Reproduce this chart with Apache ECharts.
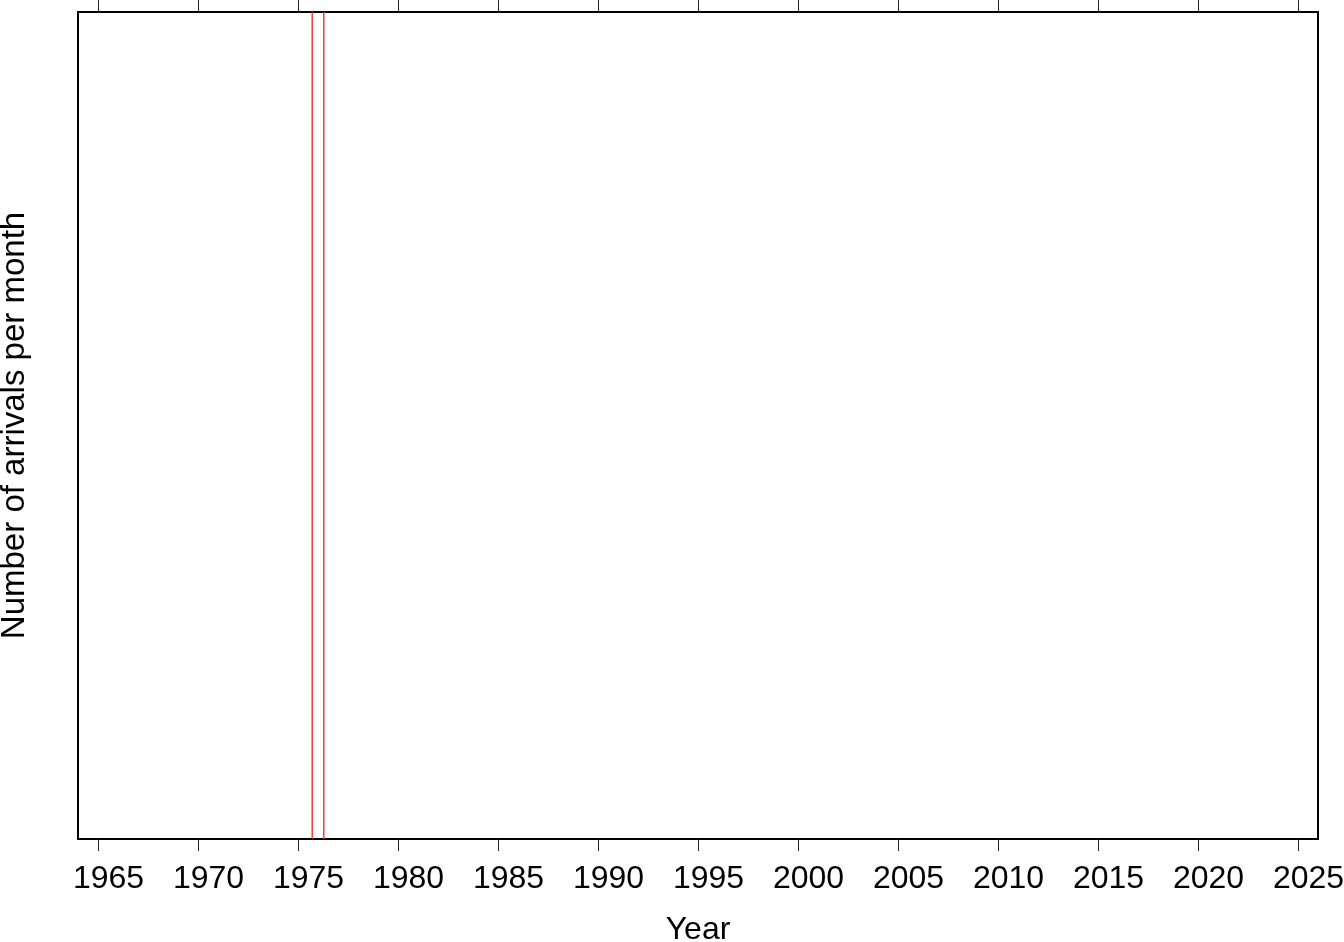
<!DOCTYPE html>
<html>
<head>
<meta charset="utf-8">
<script src="https://cdn.jsdelivr.net/npm/echarts@6/dist/echarts.min.js"></script>
<style>
html,body{margin:0;padding:0;background:#fff;}
#chart{width:1344px;height:942px;}
</style>
</head>
<body>
<div id="chart"></div>
<script>
// Tick labels on the year axis
const tickYears = [1965, 1970, 1975, 1980, 1985, 1990, 1995, 2000, 2005, 2010, 2015, 2020, 2025];
// Axis extent
const xMin = 1964;
const xMax = 2026;
// Event markers (vertical red lines), in decimal years
const eventYears = [1975.71, 1976.29];
// Y extent (no values shown)
const yMin = 0;
const yMax = 1;

const FONT = '"Liberation Sans", Arial, Helvetica, sans-serif';

const series = eventYears.map(function (yr) {
  return {
    type: 'line',
    data: [[yr, yMin], [yr, yMax]],
    symbol: 'none',
    silent: true,
    lineStyle: { color: '#ee3333', width: 1.4 },
    animation: false
  };
});

const chart = echarts.init(document.getElementById('chart'), null, { renderer: 'canvas' });
chart.setOption({
  backgroundColor: '#fff',
  animation: false,
  grid: {
    left: 78, right: 26, top: 12, bottom: 103,
    containLabel: false,
    outerBoundsMode: 'none',
    show: true, borderColor: '#000', borderWidth: 2, backgroundColor: 'transparent'
  },
  xAxis: [{
    type: 'value',
    position: 'bottom',
    min: xMin, max: xMax,
    name: 'Year',
    nameLocation: 'middle',
    nameGap: 75,
    nameTextStyle: { fontFamily: FONT, fontSize: 32, color: '#000' },
    axisLine: { show: true, lineStyle: { color: '#000', width: 2 } },
    axisTick: { show: true, length: 12, customValues: tickYears, lineStyle: { color: '#222', width: 1 } },
    axisLabel: {
      show: true, customValues: tickYears, margin: 24,
      padding: [0, 0, 0, 21],
      fontFamily: FONT, fontSize: 32, color: '#000',
      formatter: function (v) { return String(v); }
    },
    splitLine: { show: false }
  }, {
    type: 'value',
    position: 'top',
    min: xMin, max: xMax,
    axisLine: { show: true, lineStyle: { color: '#000', width: 2 } },
    axisTick: { show: true, length: 12, customValues: tickYears, lineStyle: { color: '#222', width: 1 } },
    axisLabel: { show: false },
    splitLine: { show: false }
  }],
  yAxis: [{
    type: 'value',
    min: yMin, max: yMax,
    name: 'Number of arrivals per month',
    nameLocation: 'middle',
    nameGap: 47,
    nameRotate: 90,
    nameTextStyle: { fontFamily: FONT, fontSize: 33, color: '#000' },
    axisLine: { show: true, lineStyle: { color: '#000', width: 2 } },
    axisTick: { show: false },
    axisLabel: { show: false },
    splitLine: { show: false }
  }],
  series: series
});
</script>
</body>
</html>
